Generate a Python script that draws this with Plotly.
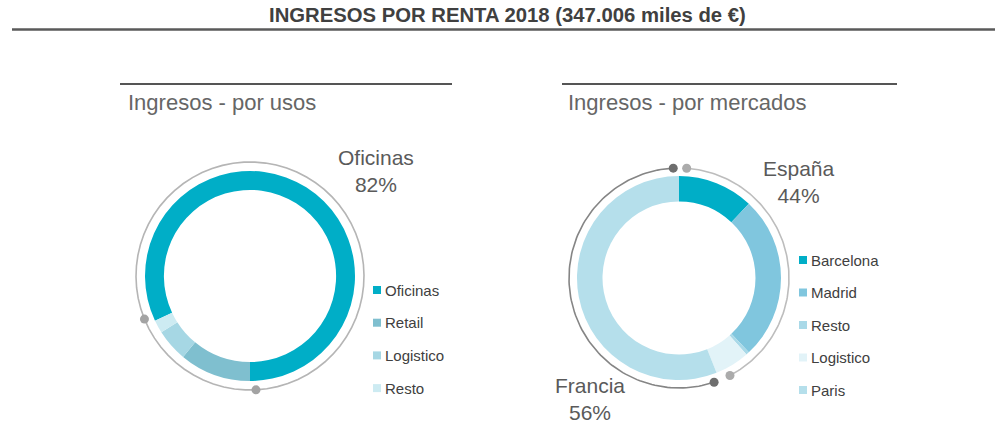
import numpy as np
import plotly.graph_objects as go

W, H = 995, 423

# data
usos_labels = ['Oficinas', 'Retail', 'Logistico', 'Resto']
usos_values = [82, 11, 5, 2]
usos_colors = ['#00AEC7', '#7FBFCF', '#A6D7E4', '#CDEBF2']

mercados_labels = ['Barcelona', 'Madrid', 'Resto', 'Logistico', 'Paris']
mercados_values = [12, 26, 0.5, 5.5, 56]
mercados_colors = ['#00AEC7', '#80C6DE', '#A9D9E8', '#E2F3F8', '#B5DFEB']
espana_labels = ['Barcelona', 'Madrid', 'Resto', 'Logistico']

TITLE = 'INGRESOS POR RENTA 2018 (347.006 miles de €)'
FONT = 'Liberation Sans, Arial, sans-serif'

# geometry in window pixels
LEFT_C, LEFT_R, LEFT_HOLE = (250, 276), 105, 0.82
RIGHT_C, RIGHT_R, RIGHT_HOLE = (679, 278), 102, 0.75
GAP = 3  # degrees between arc ends and group boundaries


def domain(c, r):
    return dict(x=[(c[0] - r) / W, (c[0] + r) / W],
                y=[1 - (c[1] + r) / H, 1 - (c[1] - r) / H])


def arc(fig, c, r, a0, a1, color, dot_color):
    a = np.radians(np.linspace(a0, a1, 120))
    x = c[0] + r * np.sin(a)
    y = c[1] - r * np.cos(a)
    fig.add_trace(go.Scatter(x=x, y=y, mode='lines', line=dict(color=color, width=1.6),
                             hoverinfo='skip'))
    fig.add_trace(go.Scatter(x=[x[0], x[-1]], y=[y[0], y[-1]], mode='markers',
                             marker=dict(color=dot_color, size=9), hoverinfo='skip'))


fig = go.Figure()

# left donut: Oficinas ends at 6 o'clock, running clockwise
ofi_deg = usos_values[0] / sum(usos_values) * 360
left_rot = 180 - ofi_deg
fig.add_trace(go.Pie(labels=usos_labels, values=usos_values, hole=LEFT_HOLE,
                     sort=False, direction='clockwise', rotation=left_rot,
                     marker=dict(colors=usos_colors), textinfo='none',
                     domain=domain(LEFT_C, LEFT_R)))

fig.add_trace(go.Pie(labels=mercados_labels, values=mercados_values, hole=RIGHT_HOLE,
                     sort=False, direction='clockwise', rotation=0,
                     marker=dict(colors=mercados_colors), textinfo='none',
                     domain=domain(RIGHT_C, RIGHT_R)))

# outer arcs
arc(fig, LEFT_C, LEFT_R + 9, left_rot + GAP, 180 + 360 - GAP, '#B5B5B5', '#A3A3A3')
esp = sum(v for l, v in zip(mercados_labels, mercados_values) if l in espana_labels)
esp_deg = esp / sum(mercados_values) * 360
arc(fig, RIGHT_C, RIGHT_R + 8, GAP + 1, esp_deg - GAP - 3, '#BDBDBD', '#ABABAB')
arc(fig, RIGHT_C, RIGHT_R + 8, esp_deg + GAP, 360 - GAP, '#858585', '#6E6E6E')

annotations = [
    dict(x=507, y=15, text='<b>' + TITLE + '</b>', font=dict(size=20.3, color='#404040')),
    dict(x=126, y=102, text='Ingresos - por usos', xanchor='left', font=dict(size=22, color='#666666')),
    dict(x=566, y=102, text='Ingresos - por mercados', xanchor='left', font=dict(size=22, color='#666666')),
    dict(x=376, y=171, text='Oficinas<br>%d%%' % usos_values[0], font=dict(size=21, color='#5A5A5A')),
    dict(x=799, y=182, text='España<br>%d%%' % round(esp), font=dict(size=21, color='#5A5A5A')),
    dict(x=590, y=399, text='Francia<br>%d%%' % round(100 - esp), font=dict(size=21, color='#5A5A5A')),
]


# legends
def legend(x, y0, step, labels, colors):
    ys = [y0 + i * step for i in range(len(labels))]
    fig.add_trace(go.Scatter(x=[x] * len(labels), y=ys, mode='markers',
                             marker=dict(symbol='square', size=8, color=colors),
                             hoverinfo='skip'))
    for lab, yy in zip(labels, ys):
        annotations.append(dict(x=x + 6, y=yy, text=lab, xanchor='left',
                                font=dict(size=15, color='#404040')))


legend(377, 290, 32.7, usos_labels, usos_colors)
legend(803, 260, 32.5, mercados_labels, mercados_colors)

for a in annotations:
    a.update(xref='x', yref='y', showarrow=False)
    a.setdefault('xanchor', 'center')
    a.setdefault('yanchor', 'middle')

shapes = [
    dict(type='line', x0=12, x1=995, y0=29.5, y1=29.5, line=dict(color='#5A5A5A', width=2.5)),
    dict(type='line', x0=120, x1=452, y0=84, y1=84, line=dict(color='#555555', width=2)),
    dict(type='line', x0=562, x1=897, y0=84, y1=84, line=dict(color='#555555', width=2)),
]
for s in shapes:
    s.update(xref='x', yref='y')

fig.update_layout(
    width=W, height=H,
    margin=dict(l=0, r=0, t=0, b=0),
    paper_bgcolor='white', plot_bgcolor='white',
    showlegend=False,
    font=dict(family=FONT),
    xaxis=dict(range=[0, W], visible=False, fixedrange=True),
    yaxis=dict(range=[H, 0], visible=False, fixedrange=True),
    annotations=annotations,
    shapes=shapes,
)

# drop the default page margin so the figure fills the window exactly
fig.write_html('out.html', config={'displayModeBar': False},
               post_script="document.body.style.margin='0';")
